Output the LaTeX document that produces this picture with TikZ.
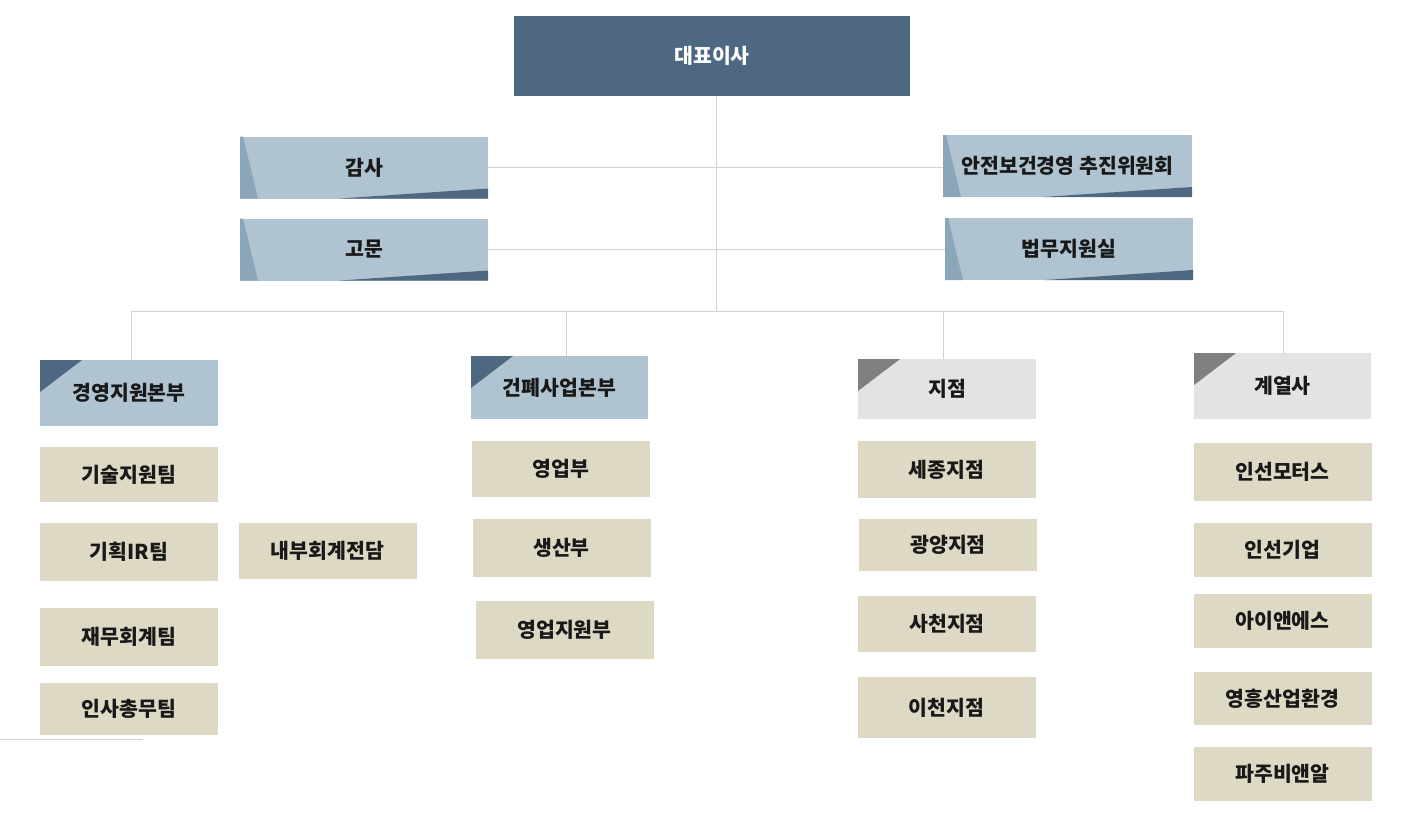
\documentclass[tikz,border=0pt]{standalone}
\usepackage{fontspec}
\newfontfamily\kr{Noto Sans CJK KR}
\usetikzlibrary{positioning}
\definecolor{ceoblue}{HTML}{4F6881}
\definecolor{staffblue}{HTML}{AFC3D1}
\definecolor{stripblue}{HTML}{8BA5B9}
\definecolor{unittan}{HTML}{DDD9C4}
\definecolor{headgrey}{HTML}{E3E3E3}
\definecolor{markgrey}{HTML}{7F7F7F}
\definecolor{linegrey}{HTML}{D2D2D2}
\tikzset{
  box/.style={inner sep=0pt, font=\kr\bfseries\fontsize{20.5}{24}\selectfont, text=black!90},
  ceo/.style={box, fill=ceoblue, text=white, minimum width=396pt, minimum height=80pt},
  staff/.style={box, fill=staffblue, minimum width=248pt, minimum height=62pt,
    path picture={
      \fill[stripblue] (path picture bounding box.north west) -- ++(3,0)
        -- ([xshift=18pt]path picture bounding box.south west) -- (path picture bounding box.south west) -- cycle;
      \fill[ceoblue] ([xshift=100pt]path picture bounding box.south west)
        -- ([yshift=10pt]path picture bounding box.south east) -- (path picture bounding box.south east) -- cycle;}},
  head/.style={box, minimum width=178pt, fill=#1,
    path picture={
      \fill[\headmark] (path picture bounding box.north west) -- ++(42,0)
        -- ([yshift=-32pt]path picture bounding box.north west) -- cycle;}},
  unit/.style={box, fill=unittan, minimum width=178pt},
  conn/.style={draw=linegrey, line width=0.8pt}
}
\newcommand{\headmark}{ceoblue}
\begin{document}
\begin{tikzpicture}[x=1pt,y=-1pt]
\useasboundingbox (0,0) rectangle (1408,812);

\node[ceo] (ceo) at (712,56) {대표이사};

\node[staff] (audit) at (364,167.5) {감사};
\node[staff] (advisor) at (364,249.5) {고문};
\node[staff, minimum width=249pt] (safety) at (1067.5,166) {안전보건경영 추진위원회};
\node[staff] (legal) at (1069,249) {법무지원실};

\coordinate (trunk) at (716,311);
\coordinate (c1) at (131,311);
\coordinate (c2) at (566,311);
\coordinate (c3) at (943,311);
\coordinate (c4) at (1283,311);

\node[head=staffblue, minimum height=66pt] (h1) at (129,393) {경영지원본부};
\node[head=staffblue, minimum width=177pt, minimum height=63pt] (h2) at (559.5,387.5) {건폐사업본부};
\def\headmark{markgrey}
\node[head=headgrey, minimum height=60pt] (h3) at (947,389) {지점};
\node[head=headgrey, minimum width=177pt, minimum height=66pt] (h4) at (1282.5,386) {계열사};

\foreach \n/\x/\y/\h/\t in {
  u1/129/474.5/55/기술지원팀, u2/129/552/58/기획IR팀, u3/129/637/58/재무회계팀,
  u4/129/709/52/인사총무팀, u5/327.5/551/56/내부회계전담,
  u6/561/469/56/영업부, u7/561.5/548/58/생산부, u8/564.5/630/58/영업지원부,
  u9/946.5/469.5/57/세종지점, u10/948/545/52/광양지점, u11/947/624/56/사천지점,
  u12/946.5/707.5/61/이천지점,
  u13/1282.5/472/58/인선모터스, u14/1282.5/550/54/인선기업, u15/1282.5/621/54/아이앤에스,
  u16/1282.5/698.5/53/영흥산업환경, u17/1282.5/774/54/파주비앤알} {
\node[unit, minimum height=\h pt] (\n) at (\x,\y) {\t};
}

\draw[conn] (ceo.south -| trunk) -- (trunk);
\draw[conn] (audit.east) -- (audit.east -| safety.west);
\draw[conn] (advisor.east) -- (advisor.east -| legal.west);
\draw[conn] (c1) -- (c4);
\foreach \i in {1,2,3,4} {
\draw[conn] (c\i) -- (c\i |- h\i.north);
}
\draw[conn] (0,739) -- (143,739);
\end{tikzpicture}
\end{document}
